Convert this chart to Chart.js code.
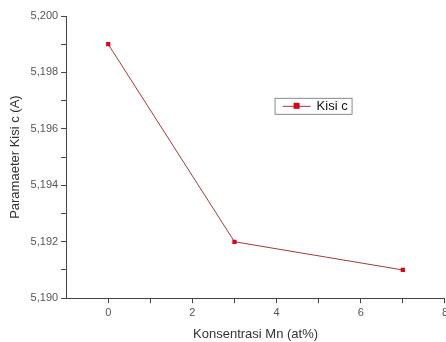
<!DOCTYPE html>
<html>
<head>
<meta charset="utf-8">
<script src="https://cdn.jsdelivr.net/npm/chart.js@4/dist/chart.umd.min.js"></script>
<style>
  html, body { margin: 0; padding: 0; background: #fff; overflow: hidden; }
  #wrap { width: 451px; height: 342px; }
</style>
</head>
<body>
<div id="wrap"><canvas id="chart"></canvas></div>
<script>
const concentrations = [0, 3, 7];
const latticeC = [5.199, 5.192, 5.191];
const seriesLabel = "Kisi c";

const lineColor = "#a23a3a";
const markerColor = "#e0001b";
const fontFamily = "'Liberation Sans', Arial, sans-serif";

// Origin-style legend box drawn inside the plot
const insideLegend = {
  id: "insideLegend",
  afterDraw(chart) {
    const ctx = chart.ctx;
    const x = chart.scales.x.getPixelForValue(4) - 2;
    const y = chart.scales.y.getPixelForValue(5.1971);
    ctx.save();
    ctx.strokeStyle = "#8a8a8a";
    ctx.lineWidth = 1;
    ctx.strokeRect(x + 0.5, y + 0.5, 77, 16);
    ctx.strokeStyle = lineColor;
    ctx.beginPath();
    ctx.moveTo(x + 8, y + 8.5);
    ctx.lineTo(x + 36, y + 8.5);
    ctx.stroke();
    ctx.fillStyle = markerColor;
    ctx.fillRect(x + 19, y + 5, 6, 6);
    ctx.fillStyle = "#111";
    ctx.font = "13px " + fontFamily;
    ctx.textBaseline = "middle";
    ctx.fillText(chart.data.datasets[0].label, x + 42, y + 9);
    ctx.restore();
  }
};

const tickFont = { family: fontFamily, size: 11 };
const titleFont = { family: fontFamily, size: 13 };

new Chart(document.getElementById("chart"), {
  type: "line",
  data: {
    datasets: [{
      label: seriesLabel,
      data: concentrations.map((c, i) => ({ x: c, y: latticeC[i] })),
      borderColor: lineColor,
      borderWidth: 1,
      pointStyle: "rect",
      pointRadius: 3,
      pointBackgroundColor: markerColor,
      pointBorderColor: markerColor,
      pointBorderWidth: 0
    }]
  },
  options: {
    responsive: true,
    maintainAspectRatio: false,
    animation: false,
    layout: { padding: { top: 16, left: 4, bottom: 0, right: 0 } },
    plugins: { legend: { display: false }, tooltip: { enabled: false } },
    scales: {
      x: {
        type: "linear",
        min: -1,
        max: 8,
        ticks: {
          stepSize: 1,
          color: "#555",
          font: tickFont,
          padding: 3,
          maxRotation: 0,
          autoSkip: false,
          callback: v => (v >= 0 && v % 2 === 0) ? String(v) : ""
        },
        grid: {
          drawOnChartArea: false,
          tickLength: 5,
          tickColor: c => c.tick && c.tick.value === -1 ? "rgba(0,0,0,0)" : "#444"
        },
        border: { color: "#444", width: 1 },
        title: {
          display: true,
          text: "Konsentrasi Mn (at%)",
          color: "#333",
          font: titleFont,
          padding: { top: 4, bottom: 0 }
        }
      },
      y: {
        min: 5.190,
        max: 5.200,
        ticks: {
          stepSize: 0.001,
          color: "#555",
          font: tickFont,
          padding: 3,
          autoSkip: false,
          callback: v => Math.round(v * 1000) % 2 === 0 ? v.toFixed(3).replace(".", ",") : ""
        },
        grid: { drawOnChartArea: false, tickLength: 5, tickColor: "#444" },
        border: { color: "#444", width: 1 },
        title: {
          display: true,
          text: "Paramaeter Kisi c (A)",
          color: "#333",
          font: titleFont,
          padding: { top: 4, bottom: 4 }
        }
      }
    }
  },
  plugins: [insideLegend]
});
</script>
</body>
</html>
